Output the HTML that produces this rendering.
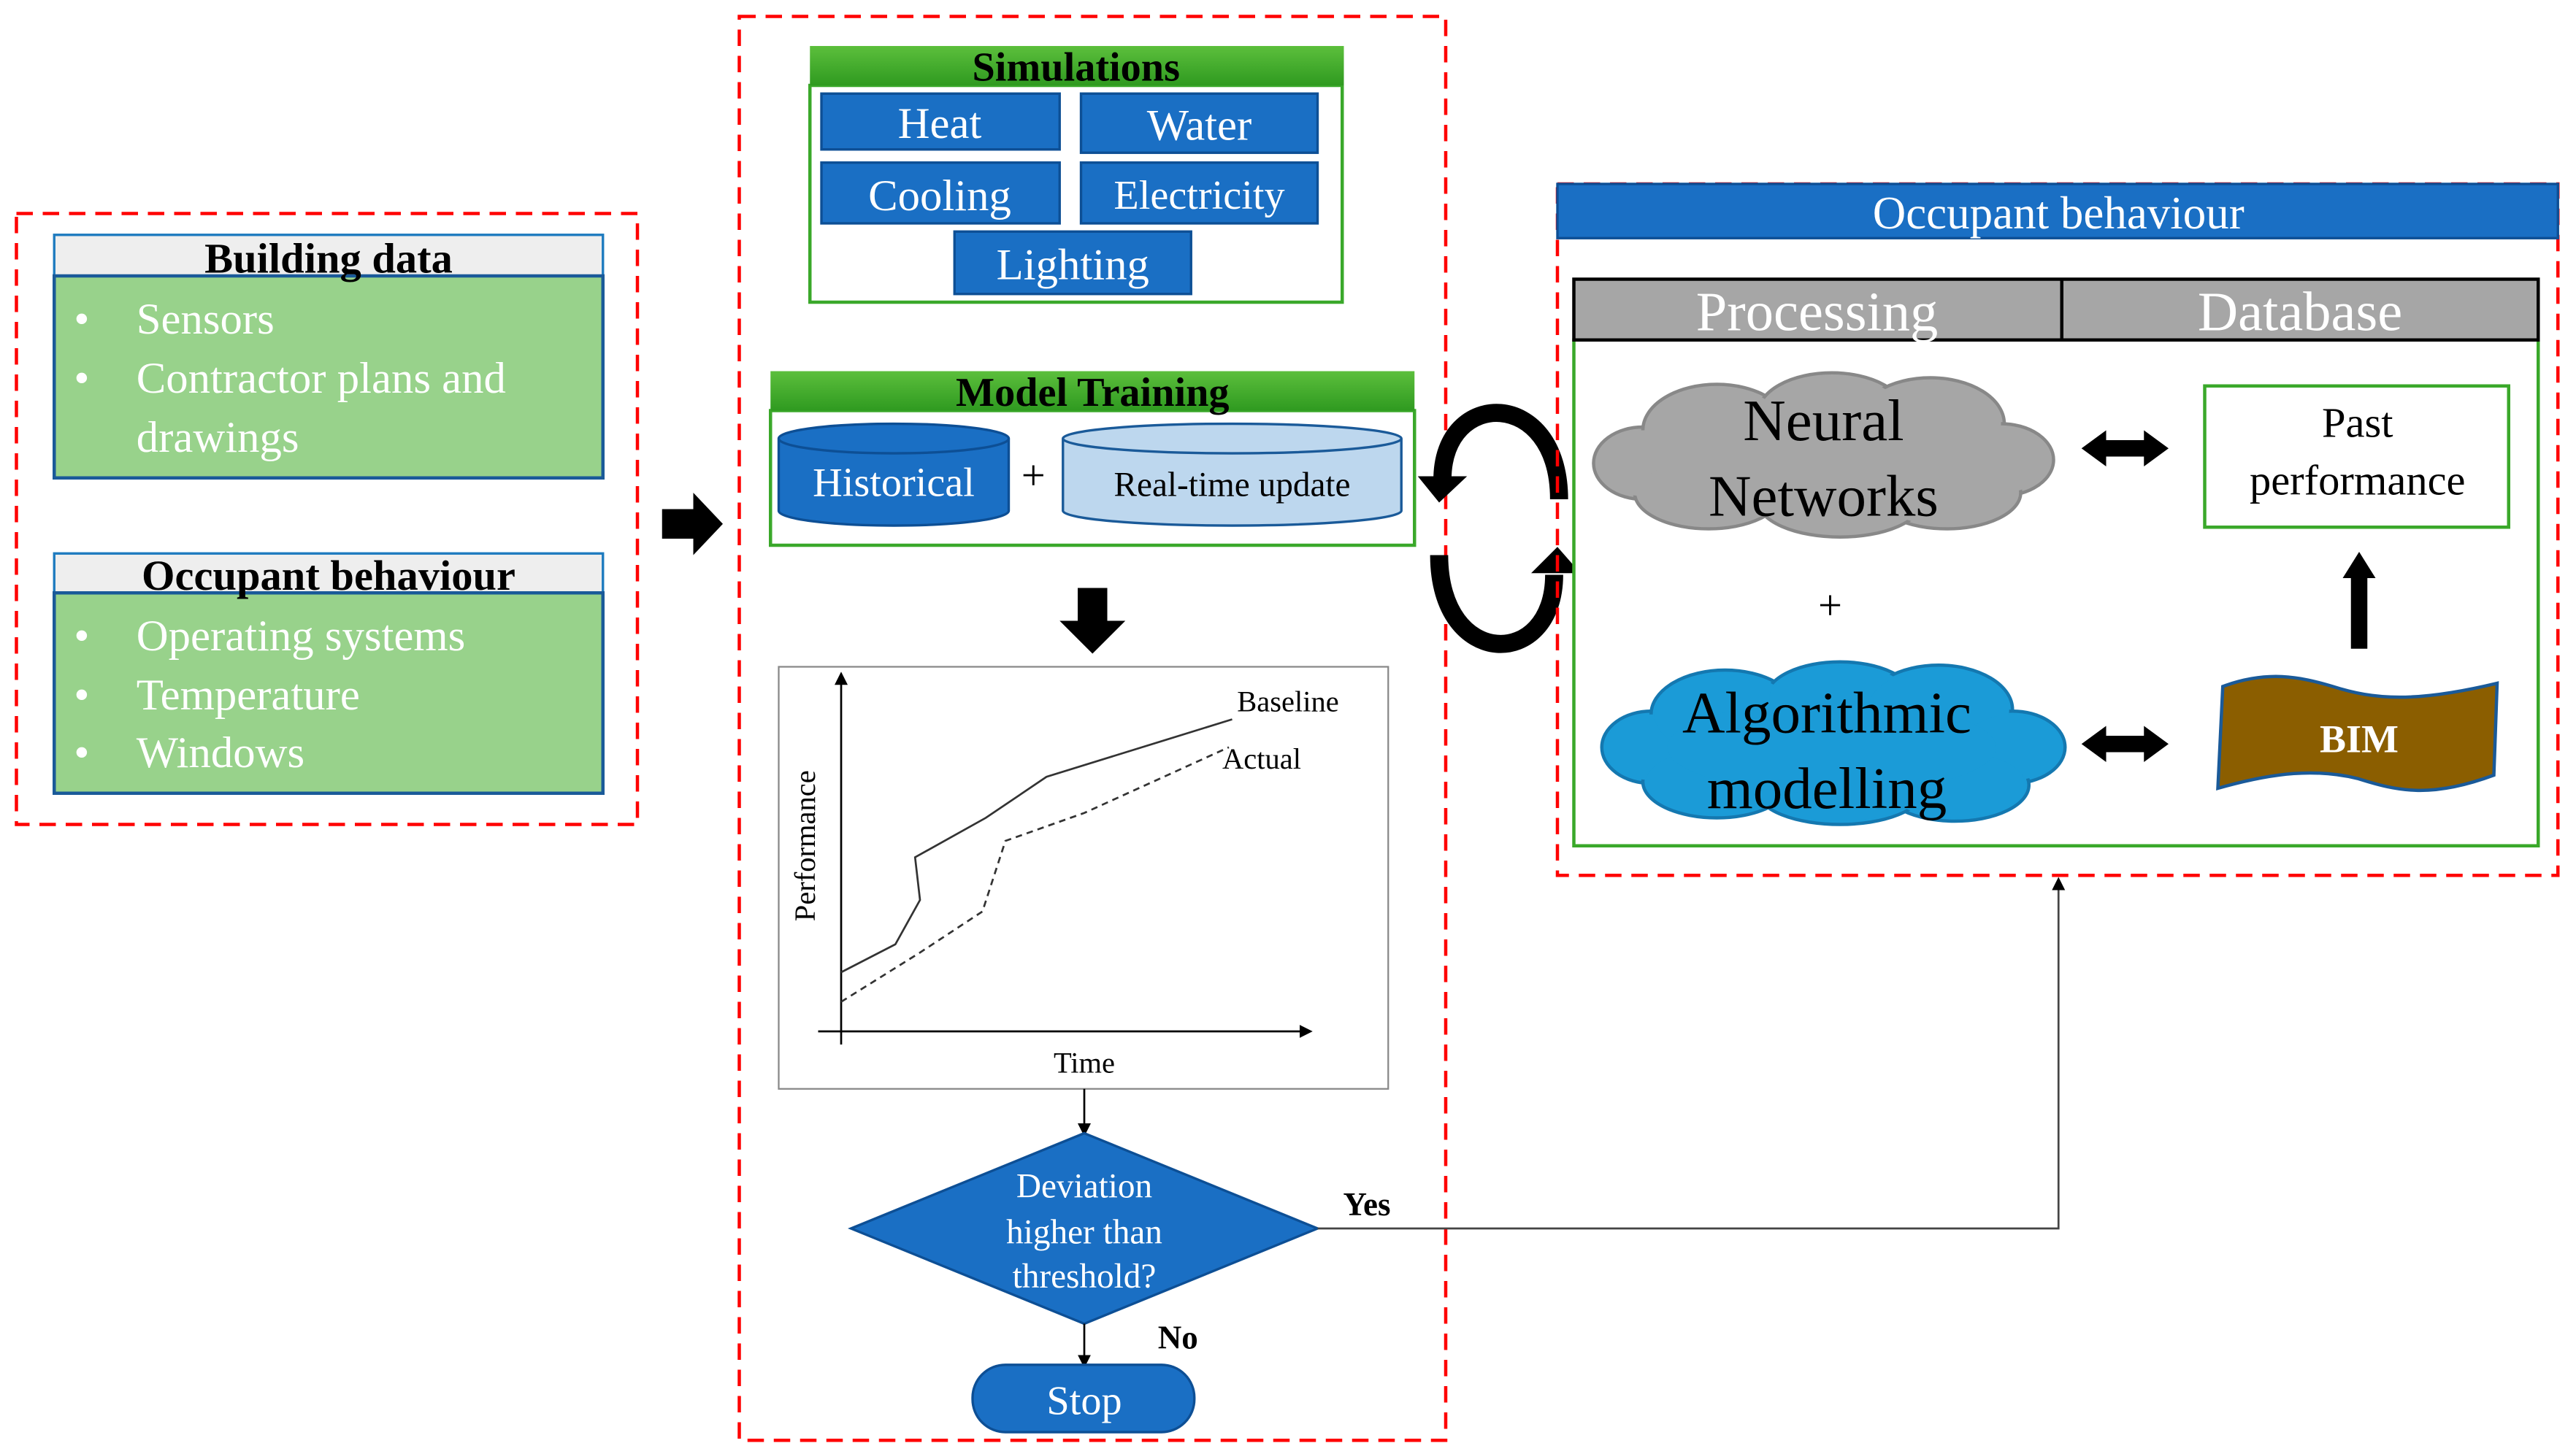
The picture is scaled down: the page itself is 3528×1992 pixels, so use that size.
<!DOCTYPE html>
<html><head><meta charset="utf-8"><style>
html,body{margin:0;padding:0;background:#fff;}
svg{display:block;}
text{font-family:"Liberation Serif",serif;}
</style></head><body>
<svg width="3528" height="1992" viewBox="0 0 1568 885.33" xmlns="http://www.w3.org/2000/svg">
<defs>
<linearGradient id="gh" x1="0" y1="0" x2="0" y2="1"><stop offset="0" stop-color="#5cbf3c"/><stop offset="1" stop-color="#2f9a20"/></linearGradient>
<marker id="ah" markerWidth="8" markerHeight="8" refX="4" refY="4" orient="auto" markerUnits="userSpaceOnUse"><path d="M0,0 L8,4 L0,8 z" fill="#000"/></marker>
</defs>
<rect width="1568" height="885.33" fill="#fff"/>

<!-- Left dashed -->
<rect x="10" y="130" width="378" height="372" fill="none" stroke="#f00" stroke-width="2" stroke-dasharray="10,6"/>
<rect x="33" y="143" width="334" height="25" fill="#eeeeee" stroke="#1e7bbf" stroke-width="1.5"/>
<rect x="33" y="168" width="334" height="123" fill="#98d28b" stroke="#1a5a99" stroke-width="2"/>
<text x="200" y="166" font-size="26" font-weight="bold" text-anchor="middle">Building data</text>
<g fill="#fff" font-size="27">
<text x="45" y="203">•</text><text x="83" y="203">Sensors</text>
<text x="45" y="239">•</text><text x="83" y="239">Contractor plans and</text>
<text x="83" y="275">drawings</text>
</g>
<rect x="33" y="337" width="334" height="24" fill="#eeeeee" stroke="#1e7bbf" stroke-width="1.5"/>
<rect x="33" y="361" width="334" height="122" fill="#98d28b" stroke="#1a5a99" stroke-width="2"/>
<text x="200" y="359" font-size="26" font-weight="bold" text-anchor="middle">Occupant behaviour</text>
<g fill="#fff" font-size="27">
<text x="45" y="396">•</text><text x="83" y="396">Operating systems</text>
<text x="45" y="432">•</text><text x="83" y="432">Temperature</text>
<text x="45" y="467">•</text><text x="83" y="467">Windows</text>
</g>
<polygon points="403,310 422,310 422,300 440,319 422,338 422,328 403,328" fill="#000"/>

<!-- Middle dashed -->
<rect x="450" y="10" width="430" height="867" fill="none" stroke="#f00" stroke-width="2" stroke-dasharray="10,6"/>
<rect x="493" y="52" width="324" height="132" fill="#fff" stroke="#3aa82a" stroke-width="2"/>
<rect x="493" y="28" width="325" height="24" fill="url(#gh)"/>
<text x="655" y="49" font-size="25" font-weight="bold" text-anchor="middle">Simulations</text>
<g fill="#1a6fc4" stroke="#0d4f95" stroke-width="1.5">
<rect x="500" y="57" width="145" height="34"/><rect x="658" y="57" width="144" height="36"/>
<rect x="500" y="99" width="145" height="37"/><rect x="658" y="99" width="144" height="37"/>
<rect x="581" y="141" width="144" height="38"/>
</g>
<g fill="#fff" font-size="27" text-anchor="middle">
<text x="572" y="84">Heat</text><text x="730" y="85">Water</text>
<text x="572" y="128">Cooling</text><text x="730" y="127" font-size="25">Electricity</text>
<text x="653" y="170">Lighting</text>
</g>

<rect x="469" y="250" width="392" height="82" fill="#fff" stroke="#3aa82a" stroke-width="2"/>
<rect x="469" y="226" width="392" height="24" fill="url(#gh)"/>
<text x="665" y="247" font-size="25" font-weight="bold" text-anchor="middle">Model Training</text>
<!-- Historical cylinder -->
<path d="M474,267 L474,311 A70,9 0 0 0 614,311 L614,267" fill="#1a6fc4" stroke="#0d4f95" stroke-width="1.5"/>
<ellipse cx="544" cy="267" rx="70" ry="9" fill="#1a6fc4" stroke="#0d4f95" stroke-width="1.5"/>
<text x="544" y="302" font-size="25" fill="#fff" text-anchor="middle">Historical</text>
<text x="629" y="298" font-size="26" text-anchor="middle">+</text>
<path d="M647,267 L647,311 A103,9 0 0 0 853,311 L853,267" fill="#bdd7ee" stroke="#1a5a99" stroke-width="1.5"/>
<ellipse cx="750" cy="267" rx="103" ry="9" fill="#bdd7ee" stroke="#1a5a99" stroke-width="1.5"/>
<text x="750" y="302" font-size="21" text-anchor="middle">Real-time update</text>
<polygon points="656,358 674,358 674,378 685,378 665,398 645,378 656,378" fill="#000"/>

<!-- Chart -->
<rect x="474" y="406" width="371" height="257" fill="#fff" stroke="#888" stroke-width="1"/>
<line x1="512" y1="636" x2="512" y2="413" stroke="#000" stroke-width="1.2" marker-end="url(#ah)"/>
<line x1="498" y1="628" x2="795" y2="628" stroke="#000" stroke-width="1.2" marker-end="url(#ah)"/>
<polyline points="512,592 545,575 560,548 557,522 600,498 637,473 750,438" fill="none" stroke="#333" stroke-width="1.2"/>
<polyline points="512,610 560,580 598,555 612,512 660,495 748,455" fill="none" stroke="#333" stroke-width="1.2" stroke-dasharray="4,3"/>
<text x="753" y="433" font-size="18">Baseline</text>
<text x="744" y="468" font-size="18">Actual</text>
<text x="496" y="515" font-size="18" text-anchor="middle" transform="rotate(-90 496 515)">Performance</text>
<text x="660" y="653" font-size="18" text-anchor="middle">Time</text>

<line x1="660" y1="663" x2="660" y2="688" stroke="#000" stroke-width="1.2" marker-end="url(#ah)"/>
<polygon points="660,690 802,748 660,806 518,748" fill="#1a6fc4" stroke="#0d4f95" stroke-width="1.5"/>
<g fill="#fff" font-size="21" text-anchor="middle">
<text x="660" y="729">Deviation</text><text x="660" y="757">higher than</text><text x="660" y="784">threshold?</text>
</g>
<text x="832" y="740" font-size="20" font-weight="bold" text-anchor="middle">Yes</text>
<text x="717" y="821" font-size="20" font-weight="bold" text-anchor="middle">No</text>
<polyline points="802,748 1253,748 1253,538" fill="none" stroke="#444" stroke-width="1.2" marker-end="url(#ah)"/>
<line x1="660" y1="806" x2="660" y2="829" stroke="#000" stroke-width="1.2" marker-end="url(#ah)"/>
<rect x="592" y="831" width="135" height="41" rx="20" fill="#1a6fc4" stroke="#0d4f95" stroke-width="1.5"/>
<text x="660" y="861" font-size="25" fill="#fff" text-anchor="middle">Stop</text>

<!-- Circular arrows -->
<path d="M949,304 C949,236 878,236 878,292" fill="none" stroke="#000" stroke-width="11"/>
<polygon points="863,290 893,290 876,306" fill="#000"/>
<path d="M876,338 C876,408 946,408 946,350" fill="none" stroke="#000" stroke-width="11"/>
<polygon points="932,349 962,349 948,333" fill="#000"/>

<!-- Right dashed -->
<rect x="948" y="112" width="609" height="421" fill="none" stroke="#f00" stroke-width="2" stroke-dasharray="10,6"/>
<rect x="948" y="112" width="609" height="33" fill="#1a6fc4" stroke="#0d4f95" stroke-width="1.5"/>
<text x="1253" y="139" font-size="28" fill="#fff" text-anchor="middle">Occupant behaviour</text>
<rect x="958" y="207" width="587" height="308" fill="#fff" stroke="#3aa82a" stroke-width="2"/>
<rect x="958" y="170" width="587" height="37" fill="#a6a6a6" stroke="#000" stroke-width="2"/>
<line x1="1255" y1="170" x2="1255" y2="207" stroke="#000" stroke-width="2"/>
<text x="1106" y="201" font-size="34" fill="#fff" text-anchor="middle">Processing</text>
<text x="1400" y="201" font-size="34" fill="#fff" text-anchor="middle">Database</text>

<!-- Gray cloud -->
<g fill="#a6a6a6" stroke="#888" stroke-width="2">
<ellipse cx="1000" cy="282" rx="30" ry="22"/><ellipse cx="1045" cy="262" rx="45" ry="28"/>
<ellipse cx="1115" cy="252" rx="45" ry="25"/><ellipse cx="1175" cy="258" rx="45" ry="28"/>
<ellipse cx="1218" cy="280" rx="32" ry="22"/><ellipse cx="1185" cy="300" rx="45" ry="22"/>
<ellipse cx="1120" cy="305" rx="50" ry="22"/><ellipse cx="1040" cy="300" rx="45" ry="22"/>
</g>
<g fill="#a6a6a6">
<ellipse cx="1000" cy="282" rx="28" ry="20"/><ellipse cx="1045" cy="262" rx="43" ry="26"/>
<ellipse cx="1115" cy="252" rx="43" ry="23"/><ellipse cx="1175" cy="258" rx="43" ry="26"/>
<ellipse cx="1218" cy="280" rx="30" ry="20"/><ellipse cx="1185" cy="300" rx="43" ry="20"/>
<ellipse cx="1120" cy="305" rx="48" ry="20"/><ellipse cx="1040" cy="300" rx="43" ry="20"/>
<ellipse cx="1110" cy="280" rx="100" ry="28"/>
</g>
<text x="1110" y="268" font-size="36" text-anchor="middle">Neural</text>
<text x="1110" y="314" font-size="36" text-anchor="middle">Networks</text>
<text x="1114" y="377" font-size="26" text-anchor="middle">+</text>

<!-- Blue cloud -->
<g fill="#1b9bd7" stroke="#1478b0" stroke-width="2">
<ellipse cx="1005" cy="455" rx="30" ry="22"/><ellipse cx="1050" cy="435" rx="45" ry="27"/>
<ellipse cx="1120" cy="425" rx="45" ry="22"/><ellipse cx="1180" cy="432" rx="45" ry="27"/>
<ellipse cx="1225" cy="455" rx="32" ry="22"/><ellipse cx="1190" cy="478" rx="45" ry="22"/>
<ellipse cx="1120" cy="482" rx="50" ry="20"/><ellipse cx="1045" cy="476" rx="45" ry="22"/>
</g>
<g fill="#1b9bd7">
<ellipse cx="1005" cy="455" rx="28" ry="20"/><ellipse cx="1050" cy="435" rx="43" ry="25"/>
<ellipse cx="1120" cy="425" rx="43" ry="20"/><ellipse cx="1180" cy="432" rx="43" ry="25"/>
<ellipse cx="1225" cy="455" rx="30" ry="20"/><ellipse cx="1190" cy="478" rx="43" ry="20"/>
<ellipse cx="1120" cy="482" rx="48" ry="18"/><ellipse cx="1045" cy="476" rx="43" ry="20"/>
<ellipse cx="1115" cy="455" rx="100" ry="28"/>
</g>
<text x="1112" y="446" font-size="36" text-anchor="middle">Algorithmic</text>
<text x="1112" y="492" font-size="36" text-anchor="middle">modelling</text>

<!-- Double arrows -->
<polygon points="1267,273 1282,262 1282,268 1305,268 1305,262 1320,273 1305,284 1305,278 1282,278 1282,284" fill="#000"/>
<polygon points="1267,453 1282,442 1282,448 1305,448 1305,442 1320,453 1305,464 1305,458 1282,458 1282,464" fill="#000"/>

<rect x="1342" y="235" width="185" height="86" fill="#fff" stroke="#3aa82a" stroke-width="2"/>
<text x="1435" y="266" font-size="26" text-anchor="middle">Past</text>
<text x="1435" y="301" font-size="26" text-anchor="middle">performance</text>
<polygon points="1431,395 1441,395 1441,352 1446,352 1436,336 1426,352 1431,352" fill="#000"/>

<path d="M1353,418 C1380,408 1400,412 1420,418 C1445,426 1470,428 1520,416 L1518,472 C1480,486 1460,482 1435,474 C1410,468 1385,470 1350,480 Z" fill="#8b5e00" stroke="#1a5a99" stroke-width="2"/>
<text x="1436" y="458" font-size="24" font-weight="bold" fill="#fff" text-anchor="middle">BIM</text>
</svg>
</body></html>
